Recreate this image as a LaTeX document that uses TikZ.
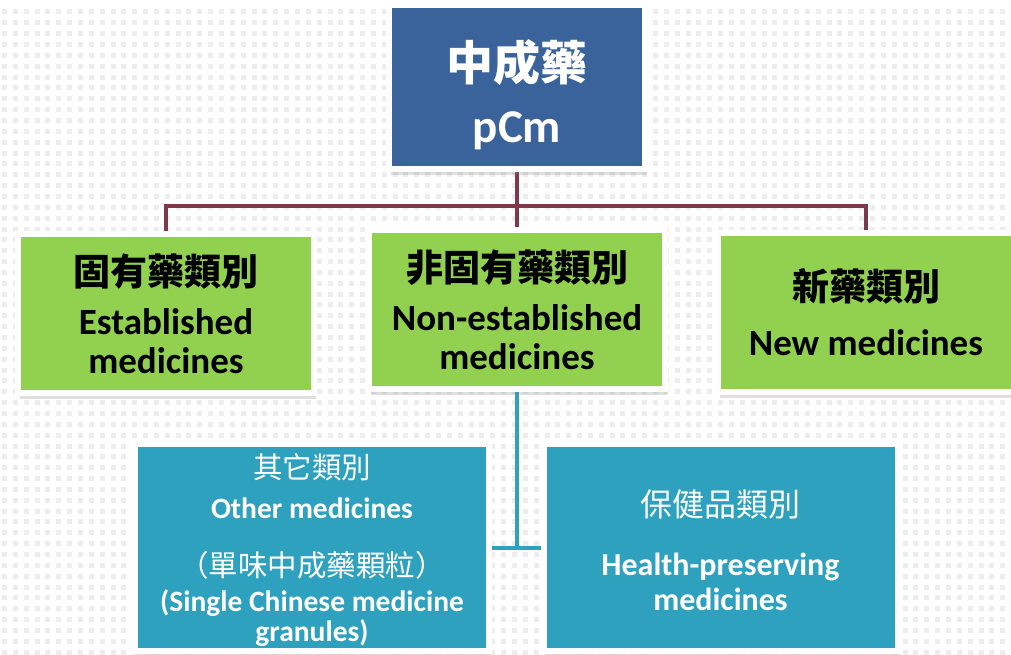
\documentclass[tikz,border=0pt]{standalone}
\usepackage{fontspec}
\setmainfont{Carlito}
\newfontfamily\cjk{Noto Sans CJK TC}
\usetikzlibrary{positioning, backgrounds, shadows}

\definecolor{pcmblue}{RGB}{58,98,155}
\definecolor{catgreen}{RGB}{146,208,80}
\definecolor{subteal}{RGB}{45,161,190}
\definecolor{tiered}{RGB}{124,58,74}

\begin{document}
\begin{tikzpicture}[x=1pt, y=-1pt,
    box/.style={draw=white, line width=6pt, inner sep=0pt, align=center,
        drop shadow={shadow xshift=2pt, shadow yshift=-6pt, opacity=0.25}},
    catbox/.style={box, fill=catgreen, minimum width=296pt, minimum height=159pt,
        font=\bfseries\fontsize{37}{39}\selectfont},
    subbox/.style={box, fill=subteal, text=white, minimum width=354pt, minimum height=207pt},
    tie/.style={draw=tiered, line width=3.5pt},
    stem/.style={draw=subteal, line width=4pt}]

    \useasboundingbox (0,0) rectangle (1011,655);
    % dotted paper
    \begin{scope}[on background layer]
        \fill[white] (0,0) rectangle (1011,655);
        \foreach \r in {0,...,59}
            \draw[black!7, line width=5pt, dash pattern=on 5pt off 5.85pt] (2,12+10.85*\r) -- (1011,12+10.85*\r);
    \end{scope}

    % strut pushes the two lines a little lower in the box
    \node[box, fill=pcmblue, text=white, minimum width=256pt, minimum height=164pt,
        font=\bfseries\fontsize{47}{62}\selectfont] (pcm) at (517,87) {\rule{0pt}{57pt}{\cjk 中成藥}\\pCm};

    \node[catbox] (estab) at (166,313.5) {{\cjk 固有藥類別}\\[10pt]Established\\medicines};
    \node[catbox] (nonestab) at (517,309.5) {{\cjk 非固有藥類別}\\[10pt]Non-established\\medicines};
    \node[catbox] (newm) at (866,312.5) {{\cjk 新藥類別}\\[16pt]New medicines};

    \node[subbox, font=\bfseries\fontsize{29.5}{33}\selectfont] (other) at (312,547.5)
        {\rule{0pt}{30pt}{\cjk\mdseries 其它類別}\\[7pt]Other medicines\\[25pt]{\cjk\mdseries （單味中成藥顆粒）}\\[2pt](Single Chinese medicine\\[-3pt]granules)};
    \node[subbox, font=\bfseries\fontsize{32}{35}\selectfont] (health) at (720.5,547.5)
        {\rule{0pt}{33pt}{\cjk\mdseries 保健品類別}\\[24pt]Health-preserving\\medicines};

    % connectors go under the boxes
    \begin{scope}[on background layer]
        \draw[tie] (pcm.south) -- ++(0,34) -| (estab.north);
        \draw[tie] (pcm.south) -- ++(0,34) -| (newm.north);
        \draw[tie] (pcm.south) -- (nonestab.north);
        \coordinate (fork) at (517,548);
        \draw[stem] (nonestab.south) -- (fork);
        \draw[stem] (other.east |- fork) -- (health.west |- fork);
    \end{scope}
\end{tikzpicture}
\end{document}
